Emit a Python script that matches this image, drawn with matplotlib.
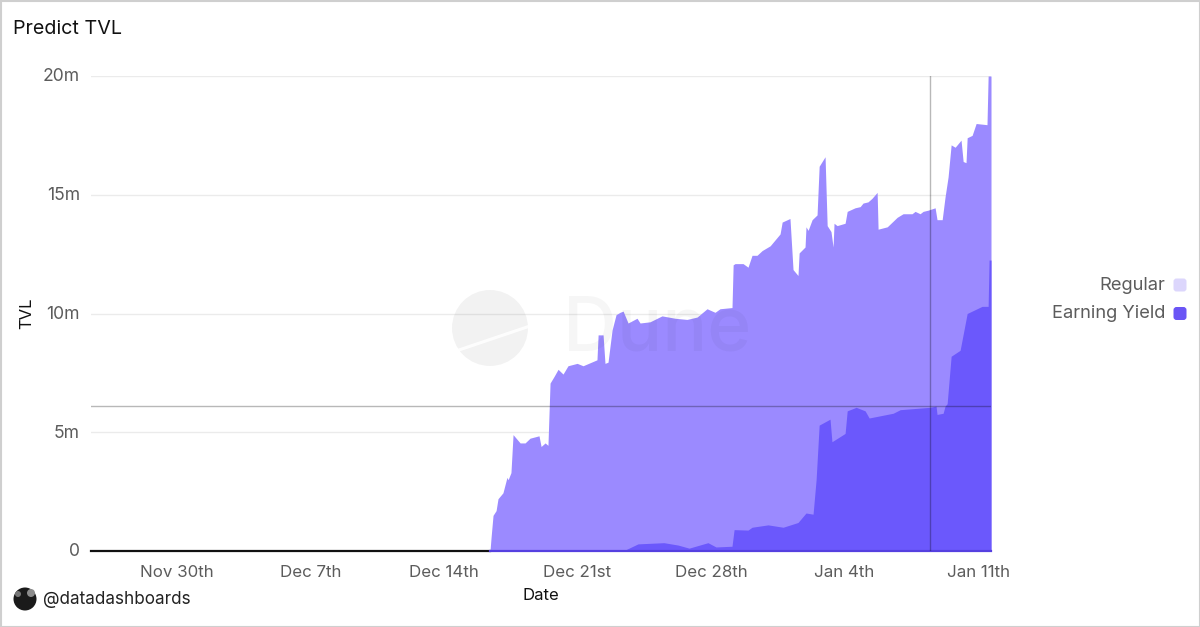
import matplotlib
matplotlib.use("Agg")
import matplotlib.pyplot as plt
from matplotlib.patches import Circle, FancyBboxPatch, Rectangle
from matplotlib.transforms import ScaledTranslation

plt.rcParams['font.family'] = ['Inter', 'DejaVu Sans']

# days since Nov 30th, TVL in millions
total_days = [-4.51, 16.41, 16.47, 16.57, 16.73, 16.83, 17.09, 17.30, 17.36, 17.51, 17.62, 17.99, 18.25, 18.51, 18.98,
              19.09, 19.30, 19.45, 19.56, 19.77, 19.98, 20.24, 20.50, 20.98, 21.29, 22.02, 22.08, 22.34, 22.44, 22.60,
              22.81, 23.02, 23.23, 23.39, 23.65, 24.12, 24.28, 24.80, 25.43, 26.11, 26.74, 27.27, 27.79, 28.21, 28.47,
              29.10, 29.16, 29.26, 29.68, 29.94, 30.15, 30.41, 30.68, 31.10, 31.36, 31.62, 31.73, 32.14, 32.30, 32.56,
              32.62, 32.93, 32.98, 33.09, 33.30, 33.56, 33.67, 33.98, 34.09, 34.29, 34.40, 34.45, 34.61, 35.03, 35.14,
              35.55, 35.82, 35.97, 36.23, 36.44, 36.71, 36.76, 37.24, 37.76, 38.07, 38.54, 38.70, 38.96, 39.12, 39.38,
              39.75, 39.85, 40.12, 40.27, 40.43, 40.59, 40.80, 41.11, 41.22, 41.37, 41.43, 41.69, 41.90, 42.47, 42.53, 42.68]
total_tvl = [0, 0, 0.6, 1.5, 1.7, 2.2, 2.45, 3.1, 3.0, 3.3, 4.9, 4.55, 4.55, 4.75, 4.85,
             4.4, 4.55, 4.45, 7.07, 7.35, 7.65, 7.45, 7.8, 7.9, 7.8, 8.05, 9.1, 9.1, 7.9, 7.95,
             9.3, 9.95, 10.05, 10.1, 9.6, 9.8, 9.6, 9.65, 9.9, 9.8, 9.75, 9.85, 10.2, 10.05, 10.2,
             10.25, 12.05, 12.1, 12.1, 11.95, 12.45, 12.45, 12.65, 12.85, 13.1, 13.35, 13.85, 14.0, 11.85, 11.6,
             12.55, 12.8, 13.65, 13.5, 13.95, 14.15, 16.2, 16.6, 13.7, 13.45, 12.8, 13.8, 13.7, 13.8, 14.3,
             14.45, 14.5, 14.65, 14.7, 14.85, 15.1, 13.55, 13.65, 14.05, 14.2, 14.2, 14.3, 14.2, 14.3, 14.35,
             14.45, 13.95, 13.95, 14.9, 15.75, 17.1, 17.0, 17.3, 16.4, 16.35, 17.4, 17.5, 18.0, 17.95, 20.0, 20.0]

earning_days = [-4.51, 23.39, 23.65, 24.17, 25.53, 26.27, 26.85, 27.84, 28.26, 29.10, 29.21, 29.94, 30.15, 30.99, 31.78,
                32.56, 32.98, 33.35, 33.51, 33.67, 34.24, 34.34, 35.03, 35.14, 35.61, 36.08, 36.29, 37.55, 37.92, 39.49,
                39.80, 39.85, 40.17, 40.27, 40.38, 40.59, 41.06, 41.43, 42.21, 42.53, 42.58, 42.68]
earning_tvl = [0, 0, 0.1, 0.3, 0.35, 0.25, 0.12, 0.35, 0.17, 0.2, 0.9, 0.88, 1.0, 1.1, 1.0,
               1.2, 1.6, 1.55, 3.0, 5.3, 5.55, 4.6, 4.95, 5.9, 6.05, 5.9, 5.6, 5.8, 5.95, 6.05,
               6.1, 5.75, 5.8, 6.1, 6.2, 8.2, 8.45, 10.0, 10.3, 10.3, 12.25, 12.25]

tick_days = [0, 7, 14, 21, 28, 35, 42]
tick_labels = ["Nov 30th", "Dec 7th", "Dec 14th", "Dec 21st", "Dec 28th", "Jan 4th", "Jan 11th"]
y_ticks = [0, 5, 10, 15, 20]
y_labels = ["0", "5m", "10m", "15m", "20m"]
cursor_day = 39.49
cursor_tvl = 6.1
series_names = ["Regular", "Earning Yield"]

fig = plt.figure(figsize=(12, 6.27), dpi=100, facecolor="white")
ax = fig.add_axes([91/1200, 76/627, 900/1200, 475/627])
ax.set_xlim(-4.51, 42.68)
ax.set_ylim(0, 20)
for s in ax.spines.values():
    s.set_visible(False)
ax.set_axisbelow(True)
ax.grid(axis="y", color="#ebebeb", lw=1)
ax.tick_params(length=0)
ax.set_xticks(tick_days, tick_labels, fontsize=12.2, color="#5c5c5c")
ax.set_yticks(y_ticks, y_labels, fontsize=12.6, color="#5c5c5c")
ax.tick_params(axis="x", pad=10)
ax.tick_params(axis="y", pad=8)
up = ScaledTranslation(0, 1.2/100, fig.dpi_scale_trans)
for lab in ax.get_yticklabels():
    lab.set_transform(lab.get_transform() + up)
ax.set_xlabel("Date", fontsize=12, color="#111111", labelpad=6)
ax.set_ylabel("TVL", fontsize=12, color="#111111", labelpad=0)
ax.yaxis.set_label_coords(-0.0635, 0.5, transform=ax.transAxes)

ax.fill_between(total_days, 0, total_tvl, color="#9b8aff", lw=0, zorder=2)
ax.fill_between(earning_days, 0, earning_tvl, color="#6b58fc", lw=0, zorder=3)
ax.plot([-4.51, 16.41], [0, 0], color="#111111", lw=1.6, zorder=4, clip_on=False)
ax.plot([16.41, 42.68], [0, 0], color="#5540e0", lw=1.6, zorder=4, clip_on=False)
ax.axvline(cursor_day, color="#000000", alpha=0.28, lw=1, zorder=5)
ax.axhline(cursor_tvl, color="#000000", alpha=0.28, lw=1, zorder=5)

ov = fig.add_axes([0, 0, 1, 1], zorder=10)
ov.set_xlim(0, 1200)
ov.set_ylim(627, 0)
ov.axis("off")
ov.patch.set_alpha(0)
ov.add_patch(Rectangle((0.5, 0.5), 1199, 626, fill=False, ec="#cfcfcf", lw=1.5))
# watermark
ov.add_patch(Circle((490, 328), 38, color="#000000", alpha=0.05, lw=0))
ov.plot([453, 530], [352, 326], color="white", lw=2.2, alpha=0.9)
ov.text(563, 331, "Dune", fontsize=54, fontweight="medium", color="#000000", alpha=0.035, va="center", ha="left")
ov.text(13, 29, "Predict TVL", fontsize=14.2, color="#111111", va="center", ha="left")
# legend
for name, y, c in zip(series_names, [285, 313.5], ["#dcd6fc", "#6a55f5"]):
    ov.text(1165, y, name, fontsize=13.2, color="#5c5c5c", ha="right", va="center")
    ov.add_patch(FancyBboxPatch((1176, y-4), 8, 8, boxstyle="round,pad=2.5,rounding_size=3", fc=c, ec="none"))
# attribution
ov.add_patch(Circle((25, 599), 11.5, color="#1a1a1a", lw=0))
ov.add_patch(Circle((31, 593), 4, color="#8c8c8c", lw=0))
ov.add_patch(Circle((18, 594), 3, color="#777777", lw=0))
ov.text(43, 599, "@datadashboards", fontsize=12.3, color="#222222", ha="left", va="center")

fig.savefig("out.png", dpi=100)
